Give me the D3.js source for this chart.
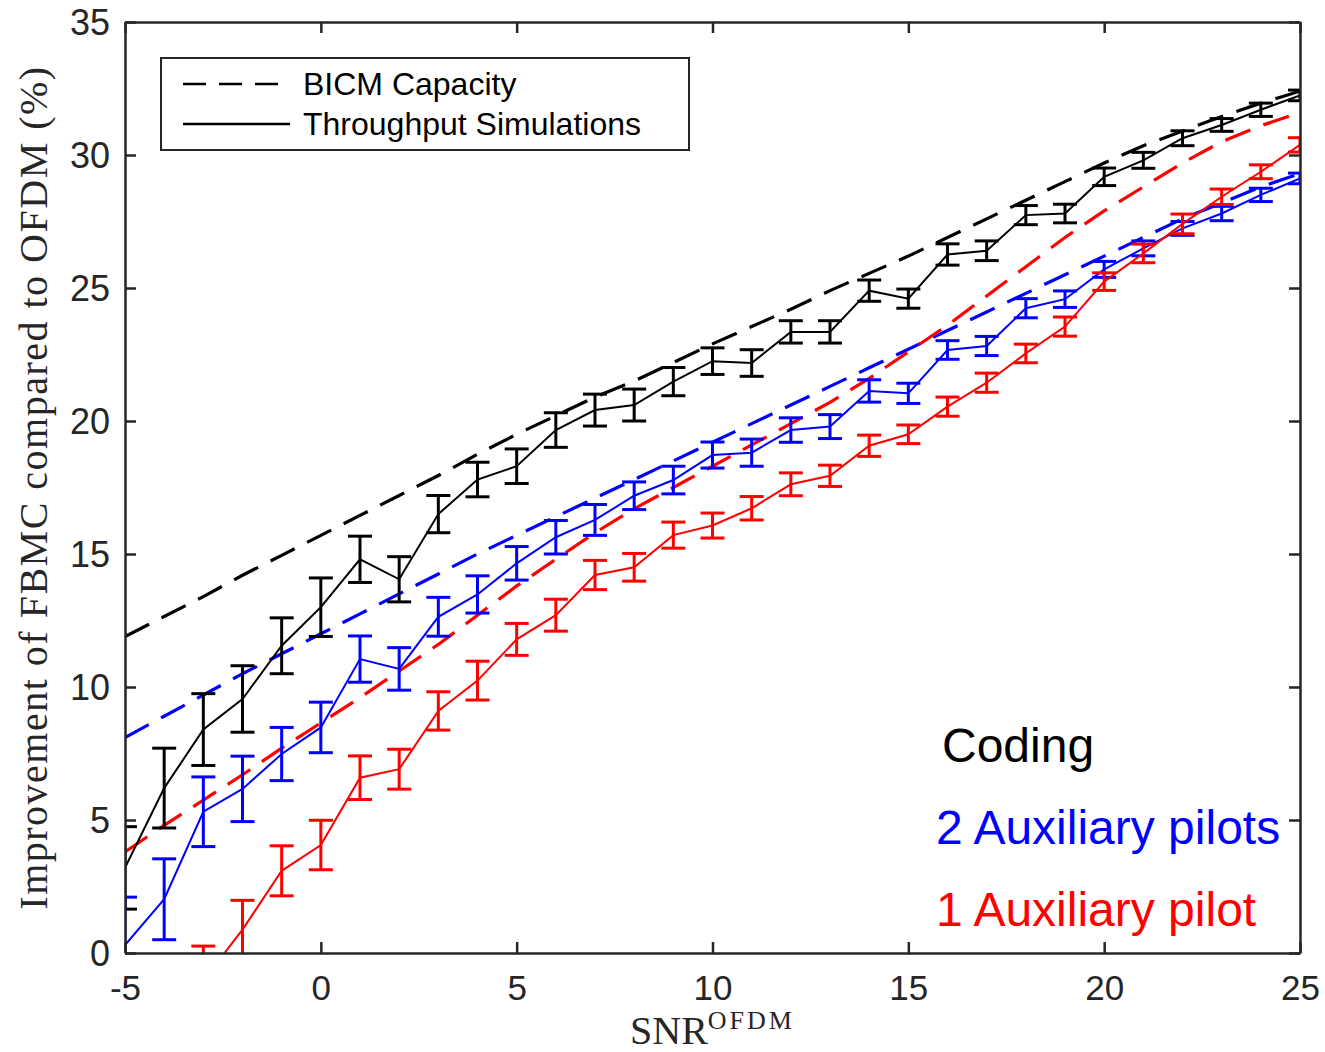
<!DOCTYPE html>
<html>
<head>
<meta charset="utf-8">
<script src="https://cdn.jsdelivr.net/npm/d3@7"></script>
<style>
  body { margin: 0; background: #fff; }
  svg { display: block; }
</style>
</head>
<body>
<div id="chart"></div>
<script>
// SNR grid
const snr = d3.range(-5, 26);
const snrRed = d3.range(-3, 26);

// BICM capacity (dashed)
const capBlack = [11.9, 12.65, 13.4, 14.2, 14.95, 15.7, 16.45, 17.2, 17.95, 18.75, 19.5, 20.2, 20.9, 21.5, 22.2, 22.9, 23.55, 24.2, 24.9, 25.55, 26.2, 26.9, 27.6, 28.3, 29.0, 29.7, 30.35, 30.9, 31.45, 31.95, 32.4];
const capBlue = [8.1, 8.9, 9.7, 10.5, 11.25, 12.0, 12.75, 13.5, 14.25, 15.0, 15.7, 16.4, 17.1, 17.8, 18.5, 19.2, 19.9, 20.6, 21.3, 22.0, 22.7, 23.4, 24.1, 24.8, 25.5, 26.2, 26.9, 27.6, 28.2, 28.8, 29.3];
const capRed = [3.8, 4.8, 5.75, 6.7, 7.7, 8.65, 9.6, 10.6, 11.6, 12.7, 13.8, 14.8, 15.8, 16.7, 17.5, 18.3, 19.1, 19.9, 20.7, 21.6, 22.6, 23.6, 24.7, 25.8, 26.9, 27.9, 28.8, 29.7, 30.5, 31.1, 31.6];

// throughput simulations (solid) with error bar half-widths
const simBlack = [3.2, 6.2, 8.4, 9.55, 11.55, 13.0, 14.8, 14.05, 16.5, 17.8, 18.3, 19.66, 20.41, 20.6, 21.48, 22.25, 22.18, 23.35, 23.35, 24.9, 24.6, 26.26, 26.4, 27.74, 27.8, 29.18, 29.8, 30.63, 31.13, 31.7, 32.24];
const errBlack = [1.55, 1.5, 1.35, 1.25, 1.05, 1.1, 0.87, 0.85, 0.7, 0.65, 0.65, 0.65, 0.6, 0.6, 0.53, 0.5, 0.5, 0.42, 0.42, 0.4, 0.36, 0.4, 0.37, 0.36, 0.35, 0.33, 0.3, 0.28, 0.24, 0.25, 0.2];
const simBlue = [0.3, 2.02, 5.31, 6.17, 7.48, 8.48, 11.05, 10.68, 12.64, 13.48, 14.65, 15.63, 16.28, 17.19, 17.78, 18.72, 18.81, 19.66, 19.79, 21.13, 21.04, 22.67, 22.82, 24.24, 24.58, 25.7, 26.49, 27.24, 27.8, 28.5, 29.12];
const errBlue = [1.8, 1.52, 1.31, 1.23, 1.0, 0.95, 0.87, 0.8, 0.73, 0.7, 0.63, 0.63, 0.58, 0.52, 0.52, 0.49, 0.51, 0.46, 0.45, 0.42, 0.38, 0.35, 0.36, 0.36, 0.31, 0.3, 0.28, 0.26, 0.27, 0.25, 0.2];
const simRed = [-1.04, 0.88, 3.09, 4.06, 6.59, 6.91, 9.1, 10.24, 11.79, 12.7, 14.21, 14.5, 15.71, 16.07, 16.72, 17.62, 17.94, 19.07, 19.5, 20.54, 21.44, 22.54, 23.55, 25.24, 26.3, 27.41, 28.43, 29.37, 30.38];
const errRed = [1.3, 1.1, 0.94, 0.93, 0.82, 0.75, 0.72, 0.73, 0.6, 0.6, 0.55, 0.52, 0.49, 0.47, 0.44, 0.43, 0.4, 0.4, 0.35, 0.36, 0.36, 0.35, 0.36, 0.33, 0.35, 0.37, 0.29, 0.26, 0.27];

const xTicks = [-5, 0, 5, 10, 15, 20, 25];
const yTicks = [0, 5, 10, 15, 20, 25, 30, 35];
const legendLabels = ["BICM Capacity", "Throughput Simulations"];
const notes = [
    { text: "Coding", color: "#000000" },
    { text: "2 Auxiliary pilots", color: "#0000ff" },
    { text: "1 Auxiliary pilot", color: "#ff0000" }
];

const W = 1325, H = 1052;
const m = { left: 125, right: 25, top: 22, bottom: 99 };
const axisColor = "#262626";
const serif = "'Liberation Serif', 'Times New Roman', serif";
const sans = "'Liberation Sans', Arial, sans-serif";

const svg = d3.select("#chart").append("svg")
    .attr("width", W).attr("height", H);

const x = d3.scaleLinear().domain([-5, 25]).range([m.left, W - m.right]);
const y = d3.scaleLinear().domain([0, 35]).range([H - m.bottom, m.top]);

svg.append("defs").append("clipPath").attr("id", "plotClip")
    .append("rect")
    .attr("x", m.left).attr("y", m.top)
    .attr("width", W - m.left - m.right).attr("height", H - m.top - m.bottom);

const plot = svg.append("g").attr("clip-path", "url(#plotClip)");

const line = d3.line().x(d => x(d[0])).y(d => y(d[1]));

// dashed capacity curves
const dashed = [[capBlack, "#000000"], [capBlue, "#0000ff"], [capRed, "#ff0000"]];
dashed.forEach(([vals, col]) => {
    plot.append("path")
        .datum(snr.map((s, i) => [s, vals[i]]))
        .attr("d", line)
        .attr("fill", "none")
        .attr("stroke", col)
        .attr("stroke-width", 3.2)
        .attr("stroke-dasharray", "27,14");
});

// solid simulations with error bars
const sims = [
    [snr, simBlack, errBlack, "#000000"],
    [snr, simBlue, errBlue, "#0000ff"],
    [snrRed, simRed, errRed, "#ff0000"]
];
const capW = 12;
sims.forEach(([xs, vals, errs, col]) => {
    const g = plot.append("g");
    g.append("path")
        .datum(xs.map((s, i) => [s, vals[i]]))
        .attr("d", line)
        .attr("fill", "none")
        .attr("stroke", col)
        .attr("stroke-width", 2);

    const bars = g.selectAll(".eb")
        .data(xs.map((s, i) => ({ s, v: vals[i], e: errs[i] })))
        .enter().append("g");
    bars.append("line")
        .attr("x1", d => x(d.s)).attr("x2", d => x(d.s))
        .attr("y1", d => y(d.v - d.e)).attr("y2", d => y(d.v + d.e));
    bars.append("line")
        .attr("x1", d => x(d.s) - capW).attr("x2", d => x(d.s) + capW)
        .attr("y1", d => y(d.v - d.e)).attr("y2", d => y(d.v - d.e));
    bars.append("line")
        .attr("x1", d => x(d.s) - capW).attr("x2", d => x(d.s) + capW)
        .attr("y1", d => y(d.v + d.e)).attr("y2", d => y(d.v + d.e));
    bars.selectAll("line").attr("stroke", col).attr("stroke-width", 3);
});

// axes box + ticks (inside, on all four sides)
const axB = svg.append("g").attr("transform", `translate(0,${H - m.bottom})`)
    .call(d3.axisBottom(x).tickValues(xTicks).tickSizeInner(-11).tickSizeOuter(0)
        .tickPadding(22).tickFormat(d => String(d)));
const axT = svg.append("g").attr("transform", `translate(0,${m.top})`)
    .call(d3.axisTop(x).tickValues(xTicks).tickSizeInner(-11).tickSizeOuter(0).tickFormat(""));
const axL = svg.append("g").attr("transform", `translate(${m.left},0)`)
    .call(d3.axisLeft(y).tickValues(yTicks).tickSizeInner(-11).tickSizeOuter(0).tickPadding(15));
const axR = svg.append("g").attr("transform", `translate(${W - m.right},0)`)
    .call(d3.axisRight(y).tickValues(yTicks).tickSizeInner(-11).tickSizeOuter(0).tickFormat(""));

[axB, axT, axL, axR].forEach(a => {
    a.select(".domain").attr("stroke", axisColor).attr("stroke-width", 2.5);
    a.selectAll(".tick line").attr("stroke", axisColor).attr("stroke-width", 2.5);
    a.selectAll("text").attr("fill", axisColor);
});
axB.selectAll("text")
    .style("font-family", sans)
    .style("font-size", "35px");
axL.selectAll("text")
    .style("font-family", sans)
    .style("font-size", "36px")
    .attr("dy", "0.36em");

// axis labels
svg.append("text")
    .attr("transform", `translate(47,${(m.top + H - m.bottom) / 2}) rotate(-90)`)
    .attr("text-anchor", "middle")
    .style("font-family", serif)
    .style("font-size", "40px")
    .style("letter-spacing", "1.5px")
    .attr("fill", axisColor)
    .text("Improvement of FBMC compared to OFDM (%)");

const xl = svg.append("text")
    .attr("x", x(10)).attr("y", 1044)
    .attr("text-anchor", "middle")
    .style("font-family", serif)
    .attr("fill", axisColor);
xl.append("tspan").style("font-size", "40px").text("SNR");
xl.append("tspan").attr("dy", -15)
    .style("font-size", "26px")
    .style("letter-spacing", "3px")
    .text("OFDM");

// legend
const leg = svg.append("g");
leg.append("rect")
    .attr("x", 161).attr("y", 58).attr("width", 528).attr("height", 92)
    .attr("fill", "#fff").attr("stroke", axisColor).attr("stroke-width", 2);
legendLabels.forEach((lab, i) => {
    const ly = 84 + i * 40;
    leg.append("line")
        .attr("x1", 183).attr("x2", 290).attr("y1", ly).attr("y2", ly)
        .attr("stroke", "#000").attr("stroke-width", 2.5)
        .attr("stroke-dasharray", i === 0 ? "23,13" : null);
    leg.append("text")
        .attr("x", 303).attr("y", ly).attr("dy", "0.35em")
        .style("font-family", sans)
        .style("font-size", "32px")
        .attr("fill", "#000")
        .text(lab);
});

// annotations
svg.selectAll(".note").data(notes).enter().append("text")
    .attr("x", (d, i) => i === 0 ? 942 : 936)
    .attr("y", (d, i) => 762 + i * 82)
    .style("font-family", sans)
    .style("font-size", "48px")
    .attr("fill", d => d.color)
    .text(d => d.text);
</script>
</body>
</html>
